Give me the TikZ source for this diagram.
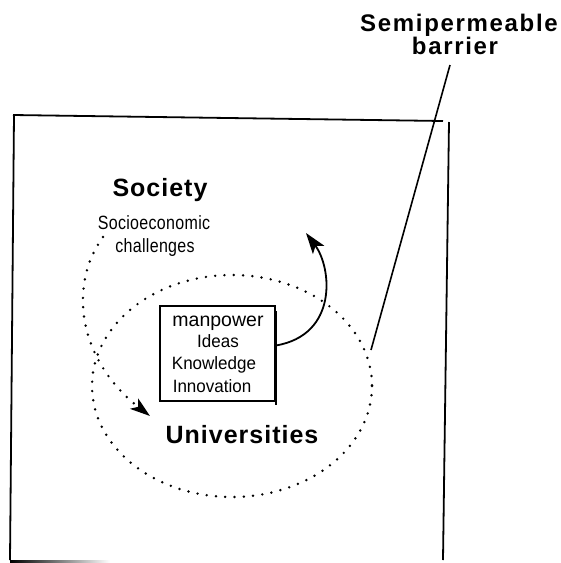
\documentclass[tikz,border=0pt]{standalone}
\usepackage{fontspec}
\setmainfont{Liberation Sans}
\usetikzlibrary{arrows.meta}
\newcommand{\tallish}[1]{\scalebox{1}[1.2]{#1}}
\begin{document}
\begin{tikzpicture}[x=1pt,y=-1pt,
  frame/.style={line width=1.8pt},
  biglabel/.style={font=\fontsize{25}{28}\selectfont\bfseries\addfontfeatures{LetterSpace=4}, inner sep=0pt, anchor=base},
  toplabel/.style={font=\fontsize{24}{27}\selectfont\bfseries\addfontfeatures{LetterSpace=7}, inner sep=0pt, anchor=base},
  smalltext/.style={font=\fontsize{16}{18}\selectfont\addfontfeatures{LetterSpace=2}, inner sep=0pt, anchor=base},
  boxtext/.style={font=\fontsize{17}{19}\selectfont, inner sep=0pt, anchor=base},
  dots/.style={line width=2.7pt, line cap=round, dash pattern=on 0pt off 9.3pt},
  solidarrow/.style={line width=1.8pt, -{Stealth[length=21pt,width=14pt,inset=5pt]}},
  dotarrow/.style={dots, -{Stealth[length=20pt,width=13pt,inset=5pt]}}
]
\useasboundingbox (0,0) rectangle (561,563);
% frame
\draw[frame] (13,115) -- (443,121);
\draw[frame] (14,115) -- (10,560);
\draw[frame] (449,122) -- (443,560);
\shade[left color=black, right color=white] (10,560) rectangle (110,562.5);
% labels
\node[toplabel] (semi) at (459,31) {Semipermeable};
\node[toplabel] (barr) at (455,54) {barrier};
\node[biglabel] (soc) at (160,196) {Society};
\node[smalltext] (socio) at (154,229) {\tallish{Socioeconomic}};
\node[smalltext] (chal) at (155,252) {\tallish{challenges}};
\node[biglabel] (univ) at (242,443) {Universities};
% box
\node[draw, line width=1.7pt, minimum width=115pt, minimum height=95pt, inner sep=0pt] (box) at (217.5,353.5) {};
\draw[line width=2.2pt] ([yshift=-6pt]box.north east) -- ([yshift=-3pt]box.south east);
\node[boxtext, font=\fontsize{19.5}{21}\selectfont] (man) at (218,326) {manpower};
\node[boxtext] (ideas) at (218,347) {\scalebox{1}[1.05]{Ideas}};
\node[boxtext] (know) at (214,369) {\scalebox{1}[1.05]{Knowledge}};
\node[boxtext] (inno) at (212,392) {\scalebox{1}[1.05]{Innovation}};
% ellipse
\draw[dots] (232,386) ellipse [x radius=140, y radius=111];
% barrier line
\coordinate (bt) at (450,65);
\coordinate (be) at (371,350);
\draw[line width=1.6pt] (bt) -- (be);
% arrows
\coordinate (uptip) at (306,233);
\draw[solidarrow] ([yshift=8pt]box.east) .. controls (338,335) and (332,268) .. (uptip);
\coordinate (s1) at (103,237);
\coordinate (u1) at (150,416);
\draw[dotarrow] (s1) .. controls (68,285) and (78,360) .. (u1);
\end{tikzpicture}
\end{document}
